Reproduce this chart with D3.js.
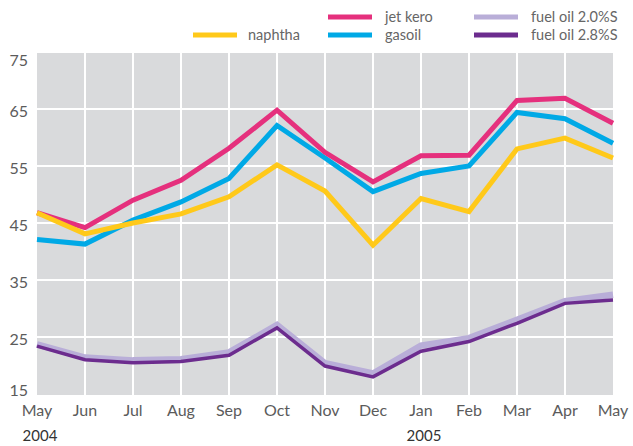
<!DOCTYPE html>
<html>
<head>
<meta charset="utf-8">
<script src="https://cdn.jsdelivr.net/npm/d3@7"></script>
<style>
  body { margin: 0; background: #fff; }
  text { font-family: Lato, "Open Sans", sans-serif; }
</style>
</head>
<body>
<script>
// month labels, May 2004 .. May 2005
var months = ["May", "Jun", "Jul", "Aug", "Sep", "Oct", "Nov", "Dec", "Jan", "Feb", "Mar", "Apr", "May"];
var years = [[0, "2004"], [8, "2005"]];
var yTicks = [15, 25, 35, 45, 55, 65, 75];

// series values
var naphtha = [46.8, 43.1, 45.0, 46.6, 49.6, 55.2, 50.6, 41.1, 49.3, 47.0, 58.0, 59.9, 56.4];
var jetKero = [46.8, 44.2, 49.0, 52.5, 58.1, 64.8, 57.4, 52.2, 56.8, 56.9, 66.5, 66.9, 62.5];
var gasoil = [42.1, 41.3, 45.5, 48.7, 52.8, 62.1, 56.4, 50.5, 53.7, 55.0, 64.4, 63.3, 59.0];
var fuel20 = [23.7, 21.4, 20.9, 21.1, 22.3, 27.1, 20.4, 18.6, 23.5, 24.8, 28.0, 31.3, 32.4];
var fuel28 = [23.4, 21.0, 20.5, 20.7, 21.8, 26.6, 19.9, 18.0, 22.5, 24.2, 27.4, 30.9, 31.5];

let w = 633;
let h = 446;

var svg = d3.select("body")
  .append("svg")
  .attr("width", w)
  .attr("height", h);

let xScale = d3.scalePoint()
  .domain(d3.range(months.length))
  .range([37, 613]);

let yScale = d3.scaleLinear()
  .domain([15, 75])
  .range([394, 52]);

// grey plot panel
svg.append("rect")
  .attr("x", xScale(0))
  .attr("y", yScale(75))
  .attr("width", xScale(12) - xScale(0))
  .attr("height", yScale(15) - yScale(75) + 1)
  .attr("fill", "#d9dadc");

// white grid lines
svg.selectAll("line.vgrid")
  .data(d3.range(1, 12))
  .enter()
  .append("line")
  .attr("x1", function(d){ return xScale(d); })
  .attr("x2", function(d){ return xScale(d); })
  .attr("y1", yScale(75))
  .attr("y2", yScale(15) + 1)
  .attr("stroke", "#fff")
  .attr("stroke-width", 2);

svg.selectAll("line.hgrid")
  .data(yTicks.filter(function(d){ return d > 15; }))
  .enter()
  .append("line")
  .attr("x1", xScale(0))
  .attr("x2", xScale(12))
  .attr("y1", function(d){ return yScale(d); })
  .attr("y2", function(d){ return yScale(d); })
  .attr("stroke", "#fff")
  .attr("stroke-width", 2);

// y labels
svg.selectAll("text.ylab")
  .data(yTicks)
  .enter()
  .append("text")
  .attr("x", 28)
  .attr("y", function(d){
    var off = 2;
    if (d == 75) off = 8;
    if (d == 15) off = -4;
    return yScale(d) + off;
  })
  .attr("dy", "0.35em")
  .attr("text-anchor", "end")
  .attr("font-size", "16px")
  .attr("fill", "#5b5b5b")
  .text(function(d){ return d; });

// x labels
svg.selectAll("text.xlab")
  .data(months)
  .enter()
  .append("text")
  .attr("x", function(d, i){ return xScale(i); })
  .attr("y", 416)
  .attr("text-anchor", "middle")
  .attr("font-size", "16px")
  .attr("fill", "#5b5b5b")
  .text(function(d){ return d; });

svg.selectAll("text.year")
  .data(years)
  .enter()
  .append("text")
  .attr("x", function(d){ return xScale(d[0]) + 3; })
  .attr("y", 441)
  .attr("text-anchor", "middle")
  .attr("font-size", "15px")
  .attr("fill", "#333")
  .text(function(d){ return d[1]; });

// lines
var line = d3.line()
  .x(function(d, i){ return xScale(i); })
  .y(function(d){ return yScale(d); });

var series = [
  { name: "fuel oil 2.0%S", values: fuel20, color: "#b9aed8", width: 6.5 },
  { name: "fuel oil 2.8%S", values: fuel28, color: "#6c2c8e", width: 3.5 },
  { name: "gasoil", values: gasoil, color: "#00a9e6", width: 5 },
  { name: "jet kero", values: jetKero, color: "#e5307d", width: 5 },
  { name: "naphtha", values: naphtha, color: "#ffc91a", width: 5 }
];

svg.selectAll("path.series")
  .data(series)
  .enter()
  .append("path")
  .attr("d", function(d){ return line(d.values); })
  .attr("fill", "none")
  .attr("stroke", function(d){ return d.color; })
  .attr("stroke-width", function(d){ return d.width; });

// legend
var legend = [
  { name: "naphtha", color: "#ffc91a", x: 193, y: 35 },
  { name: "jet kero", color: "#e5307d", x: 328, y: 17 },
  { name: "gasoil", color: "#00a9e6", x: 328, y: 35 },
  { name: "fuel oil 2.0%S", color: "#b9aed8", x: 474, y: 17 },
  { name: "fuel oil 2.8%S", color: "#6c2c8e", x: 474, y: 35 }
];

var lg = svg.selectAll("g.legend")
  .data(legend)
  .enter()
  .append("g");

lg.append("line")
  .attr("x1", function(d){ return d.x; })
  .attr("x2", function(d){ return d.x + 44; })
  .attr("y1", function(d){ return d.y; })
  .attr("y2", function(d){ return d.y; })
  .attr("stroke", function(d){ return d.color; })
  .attr("stroke-width", 5);

lg.append("text")
  .attr("x", function(d){ return d.x + (d.name == "naphtha" ? 55 : 57); })
  .attr("y", function(d){ return d.y + 5; })
  .attr("font-size", "14.5px")
  .attr("fill", "#666")
  .text(function(d){ return d.name; });
</script>
</body>
</html>
